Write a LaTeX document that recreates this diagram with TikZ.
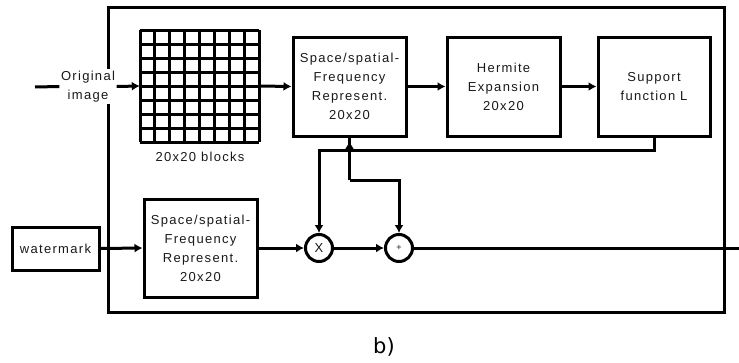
\documentclass[tikz,border=0pt]{standalone}
\usepackage{fontspec}
\setmainfont{Liberation Sans}
\newfontfamily\lab[LetterSpace=10]{Liberation Sans}
\newfontfamily\dejavu{DejaVu Sans}
\usetikzlibrary{arrows.meta}
\begin{document}
\begin{tikzpicture}[x=1pt,y=-1pt,
  every node/.style={font=\lab\fontsize{13}{19}\selectfont, text=black!90},
  blk/.style={draw, line width=3pt, align=center, inner sep=0pt},
  sumnode/.style={draw, circle, line width=3pt, minimum size=27pt, inner sep=0pt},
  wire/.style={line width=3pt},
  arr/.style={wire, -{Latex[length=8pt,width=9pt]}}]
\useasboundingbox (0,0) rectangle (739,362);
% outer frame
\draw[line width=3pt] (108,7) rectangle (724,312);
% grid
\node[minimum width=119pt, minimum height=112pt, inner sep=0pt] (grid) at (199.5,86) {};
\foreach \i in {0,...,8}{
  \draw[line width=3pt] (140+\i*14.875,30) -- (140+\i*14.875,142);
  \draw[line width=3pt] (140,30+\i*14) -- (259,30+\i*14);
}
\node (blabel) at (200,157) {20x20 blocks};
% input
\node[fill=white, align=center, inner sep=1.5pt] (orig) at (88,86.5) {Original\\image};
\coordinate (in) at (35,87);
% boxes
\node[blk, minimum width=113pt, minimum height=99pt] (ssf1) at (349.5,86.5) {Space/spatial-\\Frequency\\Represent.\\20x20};
\node[blk, minimum width=113pt, minimum height=99pt] (herm) at (503.5,86.5) {Hermite\\Expansion\\20x20};
\node[blk, minimum width=112pt, minimum height=99pt] (sup) at (654,86.5) {Support\\function L};
\node[blk, minimum width=113pt, minimum height=98pt] (ssf2) at (200.5,248) {Space/spatial-\\Frequency\\Represent.\\20x20};
\node[blk, minimum width=87pt, minimum height=43pt] (wm) at (55.5,248.5) {watermark};
\node[sumnode] (X) at (319,248) {X};
\node[sumnode, font=\lab\fontsize{9}{10}\selectfont] (plus) at (399,248) {+};
\coordinate (out) at (739,248);
\coordinate (fb) at (654,150);
\coordinate (jt) at (349.5,141);
\coordinate (k) at (349.5,180);
% connectors
\draw[wire] (in) -- (orig.west);
\draw[arr] (orig.east) -- (grid.west);
\draw[arr] (grid.east) -- (ssf1.west);
\draw[arr] (ssf1.east) -- (herm.west);
\draw[arr] (herm.east) -- (sup.west);
\draw[arr] (sup.south) -- (fb) -| (X.north);
\draw[wire] (ssf1.south) -- (k);
\draw[arr] (k |- 0,152) -- (jt);
\draw[arr] (wm.east) -- (ssf2.west);
\draw[arr] (ssf2.east) -- (X.west);
\draw[arr] (X.east) -- (plus.west);
\draw[wire] (plus.east) -- (out);
\draw[arr] (k) -| (plus.north);
% caption
\node[font=\dejavu\fontsize{21}{24}\selectfont, text=black] (cap) at (384,347) {b)};
\end{tikzpicture}
\end{document}
